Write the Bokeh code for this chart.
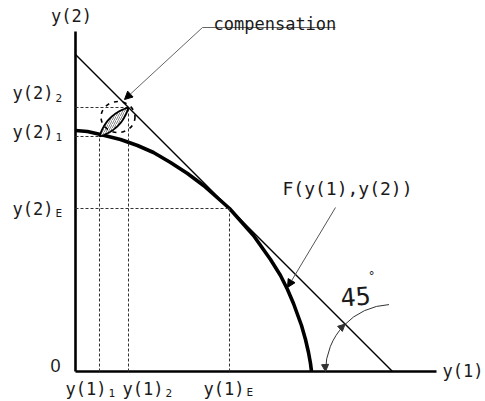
import math
from bokeh.plotting import figure
from bokeh.models import Range1d, Arrow, NormalHead
from bokeh.core.properties import value
from bokeh.embed import file_html
from bokeh.resources import INLINE

# ---- diagram data (1 unit = 1 px) ----
curve_x = [0, 12, 25, 45, 62, 78, 95, 112, 128, 145, 154, 162, 178, 195, 205, 212, 218, 222, 226, 230, 233, 235, 236]
curve_y = [241, 240, 237, 232, 226, 219, 209, 198, 186, 171, 163, 154, 136, 112, 96, 82, 68, 57, 46, 32, 19, 8, 0]

tangent_sum = 317            # y(1) + y(2) = const (45 deg line)
x_axis_end = 361
y_axis_end = 340

y1_points = [24, 53, 154]    # y(1)_1, y(1)_2, y(1)_E
y2_points = [235, 264, 163]  # y(2)_1, y(2)_2, y(2)_E
subs = ["1", "2", "E"]

angle_deg = 45
arc_radius = 67

FONT = value("DejaVu Sans Mono")

p = figure(width=485, height=401, output_backend="svg", toolbar_location=None,
           x_range=Range1d(-75, 410), y_range=Range1d(-30, 371),
           min_border=0, outline_line_color=None)
p.xaxis.visible = False
p.yaxis.visible = False
p.grid.visible = False
p.background_fill_color = "white"
p.border_fill_color = "white"

# axes
p.line([0, 0], [0, y_axis_end], line_color="black", line_width=2.6)
p.line([0, x_axis_end], [0, 0], line_color="black", line_width=2.6)

# tangent (45 deg) line
p.line([0, tangent_sum], [tangent_sum, 0], line_color="black", line_width=1.5)

# curve F
p.line(curve_x, curve_y, line_color="black", line_width=3.6, line_join="round")

# dashed guide lines
p.segment(x0=y1_points, y0=[0] * 3, x1=y1_points, y1=y2_points,
          line_color="#333333", line_width=1, line_dash="3 2")
p.segment(x0=[0] * 3, y0=y2_points, x1=y1_points, y1=y2_points,
          line_color="#333333", line_width=1, line_dash="3 2")

# compensation lens (hatched)
ax, ay = y1_points[0], y2_points[0]
bx, by = y1_points[1], y2_points[1]
L = math.hypot(bx - ax, by - ay)
nx, ny = -(by - ay) / L, (bx - ax) / L
bulge = 5.5
ts = [i / 20 for i in range(21)]
lx = [ax + t * (bx - ax) + nx * bulge * 4 * t * (1 - t) for t in ts]
ly = [ay + t * (by - ay) + ny * bulge * 4 * t * (1 - t) for t in ts]
lx += [ax + t * (bx - ax) - nx * bulge * 4 * t * (1 - t) for t in reversed(ts)]
ly += [ay + t * (by - ay) - ny * bulge * 4 * t * (1 - t) for t in reversed(ts)]
p.patch(lx, ly, fill_color="white", line_color="black", line_width=1.8,
        hatch_pattern="/", hatch_scale=4, hatch_weight=0.7, hatch_color="#555555")

# dashed ellipse around it
cx, cy = (ax + bx) / 2 + 4, (ay + by) / 2 + 5
p.ellipse(x=[cx], y=[cy], width=34, height=31, fill_color=None,
          line_color="black", line_width=1.6, line_dash="4 5")

# compensation leader
p.line([260, 127], [344, 344], line_color="#666666", line_width=1)
p.add_layout(Arrow(end=NormalHead(size=8, fill_color="black", line_color="black"),
                   x_start=127, y_start=344, x_end=bx - 4, y_end=by + 8,
                   line_color="#666666", line_width=1))

# F leader
p.add_layout(Arrow(end=NormalHead(size=8, fill_color="black", line_color="black"),
                   x_start=260, y_start=164, x_end=212, y_end=84,
                   line_color="#555555", line_width=1))

# 45 degree arc
a0 = math.radians(93)
p.arc(x=[tangent_sum], y=[0], radius=arc_radius, start_angle=a0, end_angle=math.pi,
      direction="anticlock", line_color="#333333", line_width=1)
# arrowheads on arc
ex, ey = tangent_sum - arc_radius, 0
p.add_layout(Arrow(end=NormalHead(size=7, fill_color="#333333", line_color="#333333"),
                   x_start=ex - 0.5, y_start=ey + 8, x_end=ex, y_end=ey, line_alpha=0))
th = math.radians(180 - angle_deg)
mx, my = tangent_sum + arc_radius * math.cos(th), arc_radius * math.sin(th)
p.add_layout(Arrow(end=NormalHead(size=7, fill_color="#333333", line_color="#333333"),
                   x_start=mx - 6, y_start=my - 5.5, x_end=mx, y_end=my, line_alpha=0))

# ---- texts ----
tc = "#1a1a1a"
p.text(x=[-4], y=[356], text=["y(2)"], text_font=FONT, text_font_size="17px",
       text_align="center", text_baseline="middle", text_color=tc)
p.text(x=[367], y=[1], text=["y(1)"], text_font=FONT, text_font_size="17px",
       text_align="left", text_baseline="middle", text_color=tc)
p.text(x=[-20], y=[6], text=["0"], text_font=value("Liberation Sans"), text_font_size="18px",
       text_align="center", text_baseline="middle", text_color=tc)
p.text(x=[138], y=[348], text=["compensation"], text_font=FONT, text_font_size="17px",
       text_align="left", text_baseline="alphabetic", text_color=tc)
p.text(x=[207], y=[183], text=["F(y(1),y(2))"], text_font=FONT, text_font_size="18px",
       text_align="left", text_baseline="middle", text_color=tc)
p.text(x=[280], y=[75], text=["45"], text_font=FONT, text_font_size="25px", angle=0.08,
       text_align="center", text_baseline="middle", text_color=tc)
p.text(x=[296], y=[96], text=["°"], text_font=FONT, text_font_size="12px",
       text_align="center", text_baseline="middle", text_color=tc)

# left labels y(2)_k
left_y = [240, 279, 163]
p.text(x=[-22] * 3, y=left_y, text=["y(2)"] * 3, text_font=FONT, text_font_size="17px",
       text_align="right", text_baseline="middle", text_color=tc)
p.text(x=[-20] * 3, y=[v - 5 for v in left_y], text=subs, text_font=FONT, text_font_size="11px",
       text_align="left", text_baseline="middle", text_color=tc)

# bottom labels y(1)_k
bot_x = [-10, 47, 128]
p.text(x=bot_x, y=[-17] * 3, text=["y(1)"] * 3, text_font=FONT, text_font_size="17px",
       text_align="left", text_baseline="middle", text_color=tc)
p.text(x=[v + 43 for v in bot_x], y=[-21] * 3, text=subs, text_font=FONT, text_font_size="11px",
       text_align="left", text_baseline="middle", text_color=tc)

open("out.html", "w").write(file_html(p, INLINE))
